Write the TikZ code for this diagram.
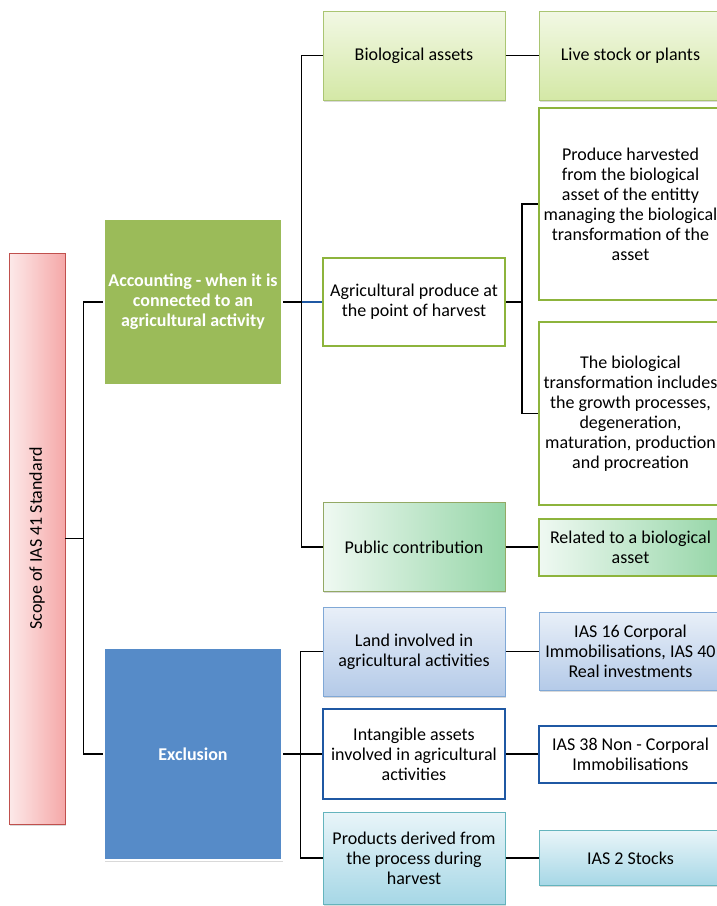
\documentclass[tikz,border=0pt]{standalone}
\usepackage{fontspec}
\setmainfont{Carlito}
\usepackage{xcolor}
\definecolor{mygreen}{RGB}{155,187,89}
\definecolor{myolive}{RGB}{141,180,60}
\definecolor{mylime}{RGB}{212,232,166}
\definecolor{mymint}{RGB}{150,214,168}
\definecolor{myblue}{RGB}{86,139,200}
\definecolor{mysky}{RGB}{180,202,232}
\definecolor{mynavy}{RGB}{31,88,163}
\definecolor{mycyan}{RGB}{166,215,230}
\definecolor{mypink}{RGB}{245,168,168}
\definecolor{myred}{RGB}{192,80,77}
\usepackage{tikz}
\usetikzlibrary{shadows}

\begin{document}
\begin{tikzpicture}[x=1pt,y=-1pt,line width=1.3pt,font=\fontsize{18}{20}\selectfont]
	\tikzstyle{box}=[rectangle,align=center,inner sep=1pt,minimum width=182pt,text=black];
	\tikzstyle{shd}=[drop shadow={shadow xshift=1.2pt,shadow yshift=-1.5pt,opacity=0.3}];
	\tikzstyle{lv}=[box,shd,draw=mygreen!85,line width=1pt,top color=mylime!30,bottom color=mylime];
	\tikzstyle{lvk}=[box,draw=myolive,line width=2pt,fill=white];
	\tikzstyle{qlv}=[box,shd,line width=1pt,left color=mymint!15,right color=mymint];
	\tikzstyle{lan}=[box,shd,draw=myblue!75,line width=1pt,top color=mysky!30,bottom color=mysky];
	\tikzstyle{lank}=[box,draw=mynavy,line width=2pt,fill=white];
	\tikzstyle{qing}=[box,shd,draw=mycyan!60!teal,line width=1pt,top color=mycyan!25,bottom color=mycyan];
	\tikzstyle{big}=[box,shd,minimum width=178pt,draw=white,line width=2.5pt,text=white,font=\fontsize{18}{20}\selectfont\bfseries];
	%%
	\useasboundingbox (0,0) rectangle (717,906);
	\clip (0,0) rectangle (717,906);
	%%
	\coordinate (S)  at (37,538.5);
	\coordinate (A)  at (193,302);
	\coordinate (E)  at (193,754);
	\coordinate (B1) at (414,55.5);
	\coordinate (B2) at (414,302);
	\coordinate (B3) at (414,547);
	\coordinate (B4) at (414,651.5);
	\coordinate (B5) at (414,754);
	\coordinate (B6) at (414,858);
	\coordinate (C1) at (630.5,55.5);
	\coordinate (C2) at (630.5,204);
	\coordinate (C3) at (630.5,413.5);
	\coordinate (C4) at (630.5,547);
	\coordinate (C5) at (630.5,651.5);
	\coordinate (C6) at (630.5,754);
	\coordinate (C7) at (630.5,858);
	%% Nodes
	\node[box,shd,minimum width=56pt,minimum height=571pt,draw=myred,line width=0.8pt,left color=mypink!25,right color=mypink] (scope) at (S) {};
	\node[rotate=90,text=black] (scopetxt) at (S) {Scope of IAS 41 Standard};
	\node[big,fill=mygreen,minimum height=167pt] (acc) at (A) {Accounting - when it is\\connected to an\\agricultural activity};
	\node[big,fill=myblue,minimum height=212pt] (excl) at (E) {Exclusion};
	%%
	\node[lv,minimum height=89pt] (bio) at (B1) {Biological assets};
	\node[lvk,minimum height=88pt] (agri) at (B2) {Agricultural produce at\\the point of harvest};
	\node[qlv,draw=mygreen!70!gray,minimum height=89pt] (pub) at (B3) {Public contribution};
	\node[lan,minimum height=89pt] (land) at (B4) {Land involved in\\agricultural activities};
	\node[lank,minimum height=90pt] (intang) at (B5) {Intangible assets\\involved in agricultural\\activities};
	\node[qing,minimum height=92pt] (prod) at (B6) {Products derived from\\the process during\\harvest};
	%%
	\node[lv,minimum height=89pt,minimum width=183pt] (live) at (C1) {Live stock or plants};
	\node[lvk,minimum height=192pt,minimum width=183pt] (harv) at (C2) {Produce harvested\\from the biological\\asset of the entitty\\managing the biological\\transformation of the\\asset};
	\node[lvk,minimum height=183pt,minimum width=183pt] (trans) at (C3) {The biological\\transformation includes\\the growth processes,\\degeneration,\\maturation, production\\and procreation};
	\node[qlv,draw=myolive,line width=2pt,minimum height=57pt,minimum width=183pt] (rel) at (C4) {Related to a biological\\asset};
	\node[lan,minimum height=78pt,minimum width=183pt] (ias16) at (C5) {IAS 16 Corporal\\Immobilisations, IAS 40\\Real investments};
	\node[lank,minimum height=57pt,minimum width=183pt] (ias38) at (C6) {IAS 38 Non - Corporal\\Immobilisations};
	\node[qing,minimum height=55pt,minimum width=183pt] (ias2) at (C7) {IAS 2 Stocks};
	%% Connectors
	\draw (scope.east) -- ++(18,0) |- (acc.west);
	\draw (scope.east) -- ++(18,0) |- (excl.west);
	\draw (acc.east) -- ++(18,0) |- (bio.west);
	\draw (acc.east) -- ++(18,0) |- (pub.west);
	\draw (acc.east) -- (agri.west);
	\draw[mynavy] (agri.west) -- ++(-20,0);
	\draw (agri.east) -- ++(16,0) |- (harv.west);
	\draw (agri.east) -- ++(16,0) |- (trans.west);
	\draw (excl.east) -- ++(17,0) |- (land.west);
	\draw (excl.east) -- ++(17,0) |- (prod.west);
	\draw (excl.east) -- (intang.west);
	\draw (bio.east) -- (live.west);
	\draw (pub.east) -- (rel.west);
	\draw (land.east) -- (ias16.west);
	\draw (intang.east) -- (ias38.west);
	\draw (prod.east) -- (ias2.west);
\end{tikzpicture}
\end{document}
